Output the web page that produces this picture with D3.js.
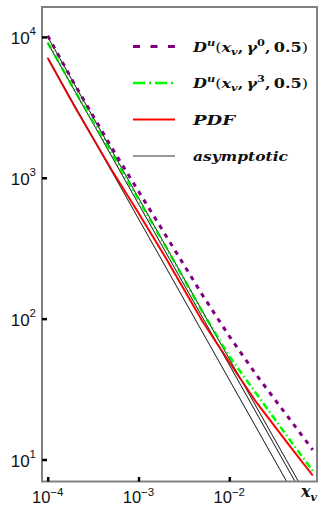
<!DOCTYPE html>
<html><head><meta charset="utf-8">
<script src="https://cdn.jsdelivr.net/npm/d3@7"></script>
<style>body{margin:0;background:#fff} svg{display:block}</style>
</head><body>
<svg id="c" width="321" height="506"></svg>
<script>
// ---- data ----
const xValues      = [1e-4, 2e-4, 5e-4, 1e-3, 2e-3, 5e-3, 1e-2, 2e-2, 5e-2, 0.083];
const purpleValues = [10200, 4550, 1660, 802, 389, 149, 75, 39.6, 18.1, 11.7];
const greenValues  = [9120, 4110, 1514, 702, 324, 113, 54, 29.2, 12.9, 8.3];
const redValues    = [7080, 3160, 1150, 562, 269, 97, 49, 25.3, 11.7, 7.7];
const asymX        = [1e-4, 0.1];
const asymA        = [10000, 3.73];
const asymB        = [9060, 3.38];
const asymC        = [7110, 2.65];
const xTicks   = [1e-4, 1e-3, 1e-2];
const xTickExp = ["\u22124", "\u22123", "\u22122"];
const yTicks   = [10, 100, 1000, 10000];
const yTickExp = ["1", "2", "3", "4"];

const svg = d3.select("#c");
const L = 42, R = 317, T = 7, B = 481.5;
const x = d3.scaleLog().domain([8.65e-5, 0.0925]).range([L, R]);
const y = d3.scaleLog().domain([6.98, 16300]).range([B, T]);

svg.append("defs").append("clipPath").attr("id", "clip")
  .append("rect").attr("x", L).attr("y", T).attr("width", R - L).attr("height", B - T);

const line = d3.line().x(d => x(d[0])).y(d => y(d[1]));
const plot = svg.append("g").attr("clip-path", "url(#clip)");

function series(xs, ys) { return xs.map((v, i) => [v, ys[i]]); }

// asymptotic lines
[asymA, asymB, asymC].forEach(a => {
  plot.append("path").attr("d", line(series(asymX, a)))
    .attr("fill", "none").attr("stroke", "#333").attr("stroke-width", 1);
});
// PDF
plot.append("path").attr("d", line(series(xValues, redValues)))
  .attr("fill", "none").attr("stroke", "#ff0000").attr("stroke-width", 2);
// gamma^3
plot.append("path").attr("d", line(series(xValues, greenValues)))
  .attr("fill", "none").attr("stroke", "#00ff00").attr("stroke-width", 2.6)
  .attr("stroke-dasharray", "7,3,1.5,3");
// gamma^0
plot.append("path").attr("d", line(series(xValues, purpleValues)))
  .attr("fill", "none").attr("stroke", "#800080").attr("stroke-width", 3)
  .attr("stroke-dasharray", "4.5,5.5");
// asymptotes thinly on top to get the darkened overlap look
[asymA, asymB, asymC].forEach(a => {
  plot.append("path").attr("d", line(series(asymX, a)))
    .attr("fill", "none").attr("stroke", "#333").attr("stroke-width", 0.8).attr("opacity", 0.6);
});

// frame
svg.append("rect").attr("x", L).attr("y", T).attr("width", R - L).attr("height", B - T)
  .attr("fill", "none").attr("stroke", "#808080").attr("stroke-width", 2);

// ticks via axes
const ax = svg.append("g").attr("transform", `translate(0,${B})`)
  .call(d3.axisBottom(x).tickValues(xTicks).tickSize(-4.5).tickFormat(""));
const ay = svg.append("g").attr("transform", `translate(${L},0)`)
  .call(d3.axisLeft(y).tickValues(yTicks).tickSize(-5).tickFormat(""));
[ax, ay].forEach(g => {
  g.select(".domain").remove();
  g.selectAll(".tick line").attr("stroke", "#000").attr("stroke-width", 2.5);
});

// tick labels
const labFont = "'Liberation Sans', Arial, sans-serif";
yTicks.forEach((v, i) => {
  const t = svg.append("text").attr("x", 36).attr("y", y(v) + 7)
    .attr("text-anchor", "end").attr("font-family", labFont).attr("font-size", 17).attr("fill", "#111");
  t.append("tspan").text("10");
  t.append("tspan").attr("dy", -9).attr("font-size", 11.5).text(yTickExp[i]);
});
xTicks.forEach((v, i) => {
  const t = svg.append("text").attr("x", x(v)).attr("y", 503)
    .attr("text-anchor", "middle").attr("font-family", labFont).attr("font-size", 16.5).attr("fill", "#111");
  t.append("tspan").text("10");
  t.append("tspan").attr("dy", -7).attr("font-size", 11.5).text(xTickExp[i]);
});

// axis label x_v
const mathFont = "'DejaVu Serif', 'Liberation Serif', serif";
const xl = svg.append("text").attr("x", 301).attr("y", 497)
  .attr("font-family", mathFont).attr("font-style", "italic").attr("font-weight", "bold")
  .attr("font-size", 16).attr("fill", "#111");
xl.append("tspan").text("x");
xl.append("tspan").attr("dy", 4).attr("font-size", 11).text("v");

// legend
const legendY = [46.5, 83, 119.5, 156];
const legendStyles = [
  {stroke: "#800080", w: 3, dash: "7,10.5"},
  {stroke: "#00ff00", w: 2.6, dash: "12,4,2,4"},
  {stroke: "#ff0000", w: 2, dash: null},
  {stroke: "#333", w: 1.2, dash: null}
];
const legendWidths = [115, 115, 42, 95];
const lg = svg.append("g");
legendStyles.forEach((s, i) => {
  lg.append("line").attr("x1", 133).attr("x2", 175).attr("y1", legendY[i]).attr("y2", legendY[i])
    .attr("stroke", s.stroke).attr("stroke-width", s.w).attr("stroke-dasharray", s.dash);
});
function mathText(i, build) {
  const t = lg.append("text").attr("x", 193).attr("y", legendY[i] + 5)
    .attr("font-family", mathFont).attr("font-size", 13.5).attr("font-weight", "bold").attr("fill", "#111");
  build(t);
  const w = t.node().getComputedTextLength();
  if (Math.abs(w - legendWidths[i]) > 3) t.attr("textLength", legendWidths[i]).attr("lengthAdjust", "spacingAndGlyphs");
}
function dLabel(t, g) {
  t.append("tspan").attr("font-style", "italic").text("D");
  t.append("tspan").attr("font-style", "italic").attr("font-size", 9.5).attr("dy", -6).text("u");
  t.append("tspan").attr("dy", 6).attr("font-weight", "normal").text("(");
  t.append("tspan").attr("font-style", "italic").text("x");
  t.append("tspan").attr("font-style", "italic").attr("font-size", 9.5).attr("dy", 3).text("v");
  t.append("tspan").attr("dy", -3).text(",");
  t.append("tspan").attr("font-style", "italic").text("\u2009\u03B3");
  t.append("tspan").attr("font-size", 9.5).attr("dy", -6).text(g);
  t.append("tspan").attr("dy", 6).text(",\u20090.5");
  t.append("tspan").attr("font-weight", "normal").text(")");
}
mathText(0, t => dLabel(t, "0"));
mathText(1, t => dLabel(t, "3"));
mathText(2, t => t.append("tspan").attr("font-style", "italic").text("PDF"));
mathText(3, t => t.append("tspan").attr("font-style", "italic").text("asymptotic"));
</script>
</body></html>
